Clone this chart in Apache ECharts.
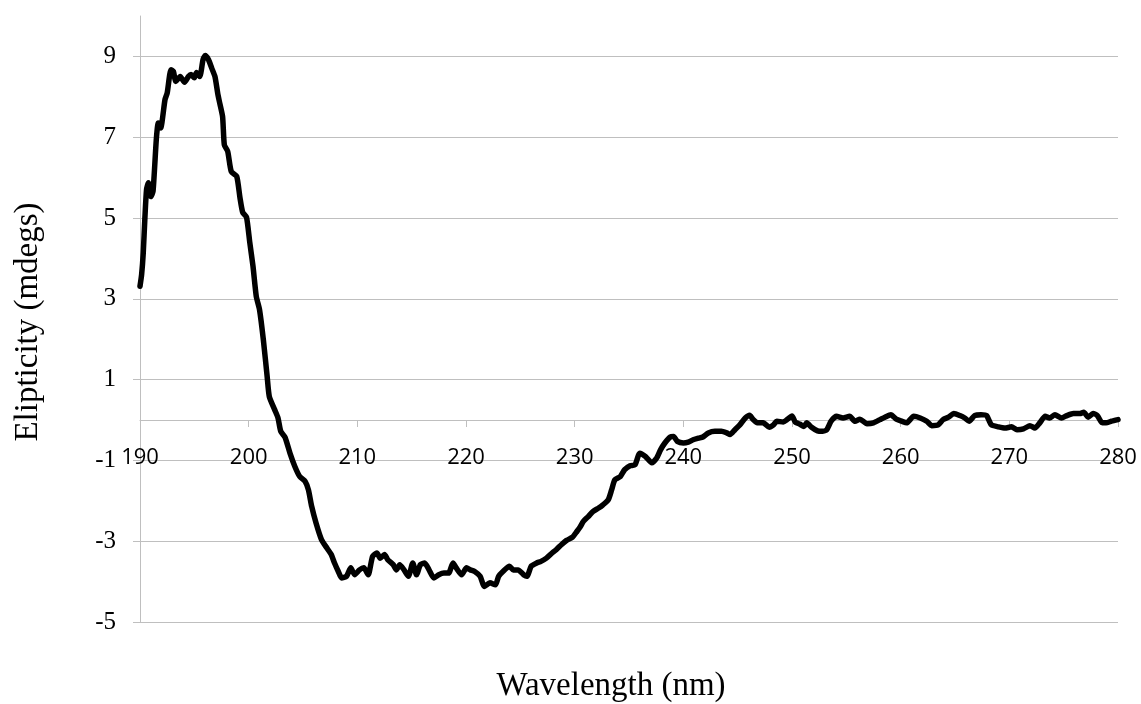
<!DOCTYPE html>
<html>
<head>
<meta charset="utf-8">
<script src="https://cdn.jsdelivr.net/npm/echarts@6/dist/echarts.min.js"></script>
<style>html,body{margin:0;padding:0;background:#fff;}#c{width:1141px;height:704px;}</style>
</head>
<body>
<div id="c"></div>
<script>
const wavelength = [190.0,190.15,190.3,190.45,190.6,190.77,191.0,191.2,191.5,191.68,191.9,192.3,192.5,192.85,193.07,193.3,193.7,194.1,194.45,194.7,195.0,195.2,195.5,195.8,196.0,196.3,196.6,196.9,197.15,197.3,197.6,197.76,198.07,198.4,198.9,199.2,199.45,199.8,200.1,200.4,200.7,201.0,201.35,201.7,201.9,202.4,202.7,202.95,203.35,203.8,204.25,204.7,205.2,205.5,205.8,206.2,206.7,207.2,207.6,207.9,208.25,208.55,209.0,209.4,209.75,210.2,210.6,211.0,211.4,211.8,212.1,212.5,212.8,213.3,213.6,213.9,214.3,214.7,215.1,215.45,215.8,216.2,216.6,217.05,217.5,217.97,218.4,218.8,219.1,219.6,220.05,220.4,220.8,221.3,221.7,222.2,222.7,223.0,223.4,224.0,224.35,224.8,225.3,225.6,226.0,226.5,226.9,227.4,227.85,228.3,228.8,229.25,229.8,230.2,230.5,230.8,231.25,231.7,232.2,232.6,233.1,233.4,233.7,234.2,234.6,235.1,235.55,236.0,236.5,237.1,237.55,237.9,238.3,238.8,239.1,239.45,240.0,240.45,240.9,241.4,241.8,242.3,242.9,243.5,244.0,244.3,244.75,245.2,245.7,246.1,246.4,246.8,247.35,247.9,248.3,248.6,249.2,249.55,250.0,250.3,250.7,251.1,251.35,251.8,252.35,252.8,253.2,253.6,254.1,254.7,255.3,255.8,256.25,256.9,257.5,258.1,258.55,259.1,259.6,260.1,260.55,261.2,261.8,262.4,262.85,263.45,263.9,264.4,264.9,265.45,265.9,266.3,266.8,267.4,267.9,268.35,269.0,269.6,270.2,270.7,271.3,271.9,272.35,272.8,273.3,273.7,274.2,274.8,275.3,275.9,276.5,276.85,277.25,277.7,278.1,278.5,278.9,279.4,280.0];
const ellipticity = [3.31,3.6,4.14,5.0,5.7,5.87,5.53,5.66,6.94,7.35,7.23,7.93,8.09,8.67,8.63,8.38,8.5,8.36,8.5,8.55,8.47,8.6,8.5,8.92,9.02,8.92,8.71,8.5,8.09,7.89,7.51,6.81,6.65,6.15,6.03,5.5,5.14,5.02,4.4,3.8,3.06,2.73,1.99,1.08,0.58,0.25,0.05,-0.28,-0.43,-0.82,-1.15,-1.4,-1.52,-1.73,-2.14,-2.55,-2.96,-3.17,-3.33,-3.54,-3.75,-3.91,-3.87,-3.66,-3.83,-3.71,-3.66,-3.83,-3.38,-3.29,-3.42,-3.33,-3.46,-3.58,-3.71,-3.58,-3.71,-3.87,-3.54,-3.83,-3.58,-3.54,-3.71,-3.91,-3.83,-3.79,-3.79,-3.54,-3.66,-3.83,-3.66,-3.71,-3.75,-3.87,-4.12,-4.03,-4.08,-3.87,-3.75,-3.62,-3.71,-3.71,-3.83,-3.87,-3.62,-3.54,-3.5,-3.42,-3.31,-3.21,-3.08,-2.98,-2.9,-2.76,-2.65,-2.51,-2.39,-2.26,-2.18,-2.1,-1.97,-1.73,-1.48,-1.4,-1.23,-1.13,-1.11,-0.82,-0.9,-1.06,-0.94,-0.74,-0.57,-0.42,-0.41,-0.53,-0.57,-0.55,-0.49,-0.45,-0.42,-0.32,-0.28,-0.28,-0.32,-0.36,-0.24,-0.12,0.05,0.12,0.02,-0.07,-0.07,-0.18,-0.12,-0.03,-0.05,0.01,0.1,-0.05,-0.1,-0.16,-0.07,-0.18,-0.27,-0.28,-0.24,-0.03,0.09,0.05,0.09,-0.03,0.02,-0.09,-0.07,0.01,0.07,0.13,0.02,-0.03,-0.07,0.09,0.05,-0.03,-0.14,-0.12,0.01,0.07,0.16,0.11,0.05,-0.03,0.11,0.13,0.11,-0.12,-0.17,-0.2,-0.17,-0.24,-0.22,-0.14,-0.2,-0.07,0.09,0.05,0.13,0.05,0.11,0.16,0.16,0.19,0.07,0.16,0.11,-0.06,-0.07,-0.03,0.01];
const yTicks = [-5, -3, -1, 1, 3, 5, 7, 9];
const xTicks = [190, 200, 210, 220, 230, 240, 250, 260, 270, 280];
const xTitle = 'Wavelength (nm)';
const yTitle = 'Elipticity (mdegs)';
const yMin = -5, yMax = 10;

const gridTop = 16, gridBottom = 82, chartH = 704;
const plotH = chartH - gridTop - gridBottom;
// place the x axis (line, ticks, labels) where y = 0 falls, as in the original
const xAxisOffset = -plotH * (0 - yMin) / (yMax - yMin);

const chart = echarts.init(document.getElementById('c'), null, {renderer: 'canvas'});
const gray = '#bfbfbf';
chart.setOption({
  animation: false,
  backgroundColor: '#ffffff',
  grid: {left: 140, right: 23, top: gridTop, bottom: gridBottom, containLabel: false},
  xAxis: {
    type: 'value', min: 190, max: 280, interval: 10,
    position: 'bottom', offset: xAxisOffset,
    axisLine: {show: true, onZero: false, lineStyle: {color: gray, width: 1}},
    axisTick: {show: true, inside: false, length: 7, customValues: xTicks, lineStyle: {color: gray}},
    axisLabel: {customValues: xTicks, margin: 27, fontFamily: 'Open Sans', fontSize: 22, color: '#000'},
    splitLine: {show: false}
  },
  yAxis: {
    type: 'value', min: yMin, max: yMax,
    axisLine: {show: true, lineStyle: {color: gray, width: 1}},
    axisTick: {show: true, length: 7, customValues: yTicks, lineStyle: {color: gray}},
    axisLabel: {customValues: yTicks, margin: 24, fontFamily: 'Liberation Serif', fontSize: 25, color: '#000'},
    splitLine: {show: true, lineStyle: {color: gray, width: 1}}
  },
  graphic: [
    {type: 'text', x: 611, y: 686, style: {text: xTitle, font: '33px "Liberation Serif"', fill: '#000', align: 'center', verticalAlign: 'middle'}},
    {type: 'text', x: 28, y: 322, rotation: Math.PI / 2, style: {text: yTitle, font: '33px "Liberation Serif"', fill: '#000', align: 'center', verticalAlign: 'middle'}}
  ],
  series: [{
    type: 'line',
    data: wavelength.map((w, i) => [w, ellipticity[i]]),
    showSymbol: false,
    smooth: 0.2,
    lineStyle: {color: '#000', width: 5.5, join: 'round', cap: 'round'},
    itemStyle: {color: '#000'}
  }]
});
</script>
</body>
</html>
